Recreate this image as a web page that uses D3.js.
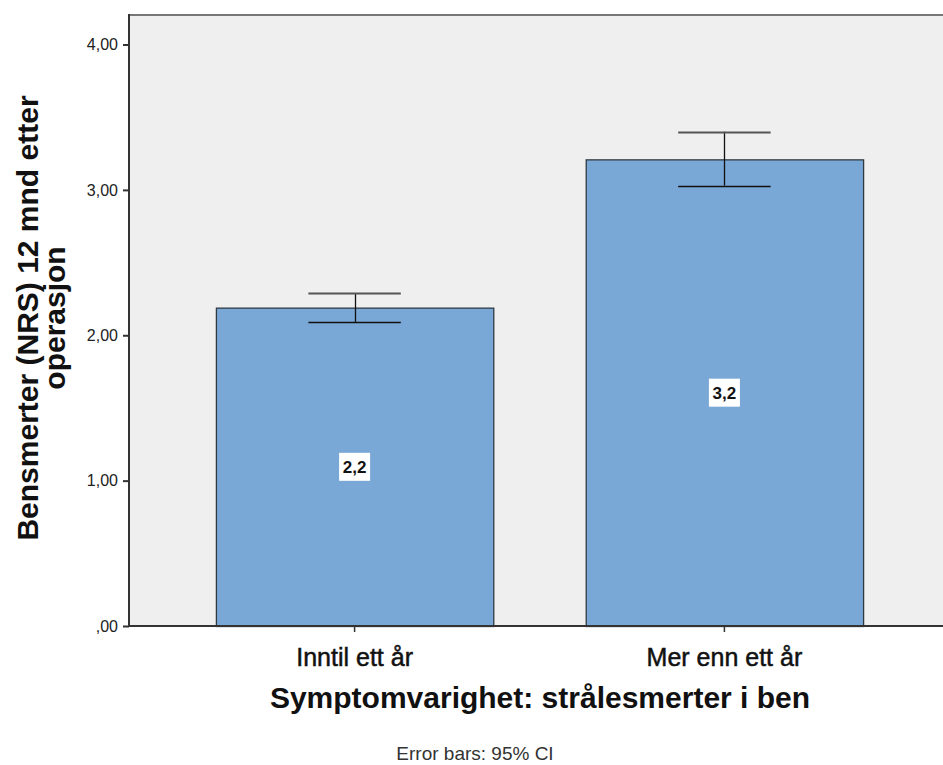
<!DOCTYPE html>
<html>
<head>
<meta charset="utf-8">
<script src="https://cdn.jsdelivr.net/npm/d3@7"></script>
<style>
  body { margin: 0; background: #fff; }
  svg { display: block; font-family: "Liberation Sans", Arial, sans-serif; }
</style>
</head>
<body>
<svg id="chart" width="943" height="765"></svg>
<script>
// data
var categories = ["Inntil ett år", "Mer enn ett år"];
var means = [2.19, 3.21];
var ciLow = [2.09, 3.03];
var ciHigh = [2.29, 3.40];
var yTicks = [0, 1, 2, 3, 4];

var svg = d3.select("#chart");
// note: "top" is taken by window.top, so plot edges get their own names
var pLeft = 129, pTop = 14, pBottom = 626, pRight = 950;

var locale = d3.formatLocale({decimal: ",", thousands: ".", grouping: [3], currency: ["", " kr"]});
var f2 = locale.format(".2f"), f1 = locale.format(".1f");
// SPSS drops the leading zero: ,00
var tickFmt = function(v){ var s = f2(v); return s.indexOf("0,") === 0 ? s.slice(1) : s; };

var x = d3.scaleBand().domain(categories).range([pLeft, pRight])
    .paddingInner(0.25).paddingOuter(0.235);
var y = d3.scaleLinear().domain([0, 4.21]).range([pBottom, pTop]);
var cx = function(i){ return x(categories[i]) + x.bandwidth()/2; };

// plot background
svg.append("rect")
    .attr("x", pLeft).attr("y", pTop)
    .attr("width", pRight - pLeft).attr("height", pBottom - pTop)
    .attr("fill", "#efefef");
// top frame line
svg.append("line")
    .attr("x1", pLeft).attr("x2", pRight).attr("y1", pTop + 1).attr("y2", pTop + 1)
    .attr("stroke", "#777").attr("stroke-width", 2);

// bars
svg.selectAll(".bar").data(means).enter().append("rect")
    .attr("class", "bar")
    .attr("x", function(d, i){ return x(categories[i]) + 0.5; })
    .attr("y", function(d){ return y(d) + 0.5; })
    .attr("width", x.bandwidth())
    .attr("height", function(d){ return pBottom - y(d); })
    .attr("fill", "#7aa8d6")
    .attr("stroke", "#2f3a44").attr("stroke-width", 1.3);

// error bars
var capW = x.bandwidth() / 3;
var eb = svg.selectAll(".err").data(means).enter().append("g")
    .attr("class", "err")
    .attr("stroke", "#111").attr("stroke-width", 1.3);
eb.append("line")
    .attr("x1", function(d, i){ return Math.round(cx(i)) + 0.5; })
    .attr("x2", function(d, i){ return Math.round(cx(i)) + 0.5; })
    .attr("y1", function(d, i){ return y(ciHigh[i]); })
    .attr("y2", function(d, i){ return y(ciLow[i]); });
eb.append("line")
    .attr("x1", function(d, i){ return cx(i) - capW/2; })
    .attr("x2", function(d, i){ return cx(i) + capW/2; })
    .attr("y1", function(d, i){ return Math.round(y(ciHigh[i])) + 0.5; })
    .attr("y2", function(d, i){ return Math.round(y(ciHigh[i])) + 0.5; })
    .attr("stroke", "#555").attr("stroke-width", 2);
eb.append("line")
    .attr("x1", function(d, i){ return cx(i) - capW/2; })
    .attr("x2", function(d, i){ return cx(i) + capW/2; })
    .attr("y1", function(d, i){ return Math.round(y(ciLow[i])) + 0.5; })
    .attr("y2", function(d, i){ return Math.round(y(ciLow[i])) + 0.5; });

// value labels in white boxes at half bar height
var lab = svg.selectAll(".vlab").data(means).enter().append("g")
    .attr("class", "vlab")
    .attr("transform", function(d, i){ return "translate(" + cx(i) + "," + y(d/2) + ")"; });
lab.append("rect")
    .attr("x", -15.5).attr("y", -14).attr("width", 31).attr("height", 28)
    .attr("fill", "#fff");
lab.append("text")
    .attr("text-anchor", "middle").attr("dy", "0.36em")
    .style("font-size", "17px").style("font-weight", "bold")
    .attr("fill", "#111")
    .text(function(d){ return f1(d); });

// y axis
var yAxis = svg.append("g")
    .attr("transform", "translate(" + pLeft + ",0)")
    .call(d3.axisLeft(y).tickValues(yTicks).tickFormat(tickFmt).tickSize(6).tickPadding(5));
yAxis.select(".domain").attr("stroke", "#333").attr("stroke-width", 2)
    .attr("d", "M0," + pTop + "V" + pBottom);
yAxis.selectAll(".tick line").attr("stroke", "#333").attr("stroke-width", 2);
yAxis.selectAll(".tick text").attr("fill", "#222")
    .style("font-size", "16px").style("font-family", "Liberation Sans, Arial, sans-serif");

// x axis
var xAxis = svg.append("g")
    .attr("transform", "translate(0," + pBottom + ")")
    .call(d3.axisBottom(x).tickSize(6).tickPadding(16));
xAxis.select(".domain").attr("stroke", "#333").attr("stroke-width", 2)
    .attr("d", "M" + (pLeft - 1) + ",0H" + pRight);
xAxis.selectAll(".tick line").attr("stroke", "#333").attr("stroke-width", 1.5);
xAxis.selectAll(".tick text").attr("fill", "#111")
    .attr("stroke", "#111").attr("stroke-width", 0.5)
    .style("font-size", "25px").style("font-family", "Liberation Sans, Arial, sans-serif");

// axis titles
svg.append("text")
    .attr("x", 540).attr("y", 708)
    .attr("text-anchor", "middle")
    .style("font-size", "30px").style("font-weight", "bold")
    .attr("fill", "#111")
    .text("Symptomvarighet: strålesmerter i ben");

var yt = svg.append("text")
    .attr("transform", "translate(38,318) rotate(-90)")
    .attr("text-anchor", "middle")
    .style("font-size", "30px").style("font-weight", "bold")
    .attr("fill", "#111");
yt.append("tspan").attr("x", 0).attr("y", 0).text("Bensmerter (NRS) 12 mnd etter");
yt.append("tspan").attr("x", 0).attr("y", 27).text("operasjon");

svg.append("text")
    .attr("x", 475).attr("y", 760)
    .attr("text-anchor", "middle")
    .style("font-size", "19px")
    .attr("fill", "#333")
    .text("Error bars: 95% CI");
</script>
</body>
</html>
